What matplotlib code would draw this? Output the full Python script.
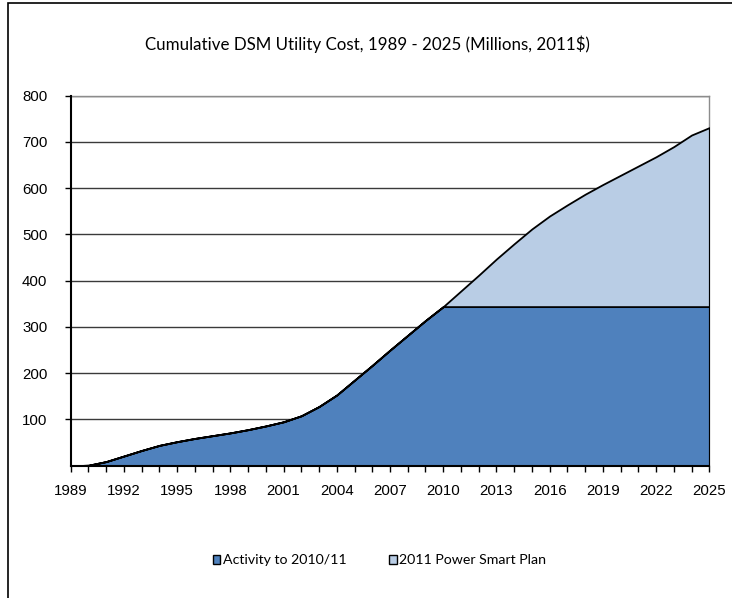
import numpy as np
import matplotlib
matplotlib.use("Agg")
import matplotlib.pyplot as plt
from matplotlib.patches import Rectangle

# Cumulative DSM utility cost, millions of 2011 dollars
years = list(range(1989, 2026))
activity_to_2010 = [0, 1, 9, 21, 33, 44, 52, 59, 65, 71, 78, 86, 95, 108, 128, 153,
                    185, 217, 250, 282, 314, 344,
                    344, 344, 344, 344, 344, 344, 344, 344, 344, 344, 344, 344, 344, 344, 344]
plan_total = [378, 412, 447, 480, 512, 540, 564, 587, 608, 628, 648, 668, 690, 715, 731]
series_names = ["Activity to 2010/11", "2011 Power Smart Plan"]
y_ticks = [100, 200, 300, 400, 500, 600, 700, 800]
title = "Cumulative DSM Utility Cost, 1989 - 2025 (Millions, 2011$)"

activity = np.array(activity_to_2010, dtype=float)
# the plan only adds on top of the frozen 2010 level
plan = np.zeros_like(activity)
plan[len(activity) - len(plan_total):] = np.array(plan_total) - activity[-1]

dark_blue = "#4F81BD"
light_blue = "#B9CDE5"

fig = plt.figure(figsize=(7.32, 5.98), dpi=100)
ax = fig.add_axes([0.0966, 0.2212, 0.8724, 0.6188])

polys = ax.stackplot(years, activity, plan, colors=[dark_blue, light_blue],
                     edgecolor="black", linewidth=1.3, labels=series_names, zorder=3)

ax.set_xlim(years[0], years[-1])
ax.set_ylim(0, 800)
ax.set_yticks(y_ticks)
ax.set_xticks(years, minor=True)
ax.set_xticks(years[::3])
ax.set_xticklabels([str(y) for y in years[::3]])

ax.yaxis.grid(True, color="#3a3a3a", linewidth=1.0, zorder=1)
ax.set_axisbelow(True)

for side in ["top", "right"]:
    ax.spines[side].set_color("#8c8c8c")
    ax.spines[side].set_linewidth(1.0)
for side in ["left", "bottom"]:
    ax.spines[side].set_color("black")
    ax.spines[side].set_linewidth(1.5)
    ax.spines[side].set_zorder(4)

ax.tick_params(axis="y", length=4.3, width=1.0, pad=12.5, labelsize=10.8)
ax.tick_params(axis="x", which="both", length=4.3, width=1.0, pad=8.5, labelsize=10.8)
ax.tick_params(axis="x", which="minor", labelbottom=False)
for lab in ax.get_xticklabels() + ax.get_yticklabels():
    lab.set_family(["Liberation Sans", "DejaVu Sans"])

fig.text(0.502, 0.926, title, ha="center", va="center", fontsize=12.2,
         family=["Lato", "DejaVu Sans"])

leg = fig.legend(handles=polys, labels=series_names, loc="center",
                 bbox_to_anchor=(0.518, 0.063), ncol=2, frameon=False,
                 handlelength=0.55, handleheight=0.55, handletextpad=0.15,
                 columnspacing=3.0, prop={"family": ["Lato", "DejaVu Sans"], "size": 10.2})
for h in leg.legend_handles:
    h.set_linewidth(1.0)

# outer chart border (only top and left edges fall inside the canvas)
fig.patches.append(Rectangle((8 / 732, -0.1), 1.2, 1 - 3 / 598 + 0.1,
                             transform=fig.transFigure, fill=False,
                             edgecolor="black", linewidth=1.2))

fig.savefig("out.png", dpi=100)
